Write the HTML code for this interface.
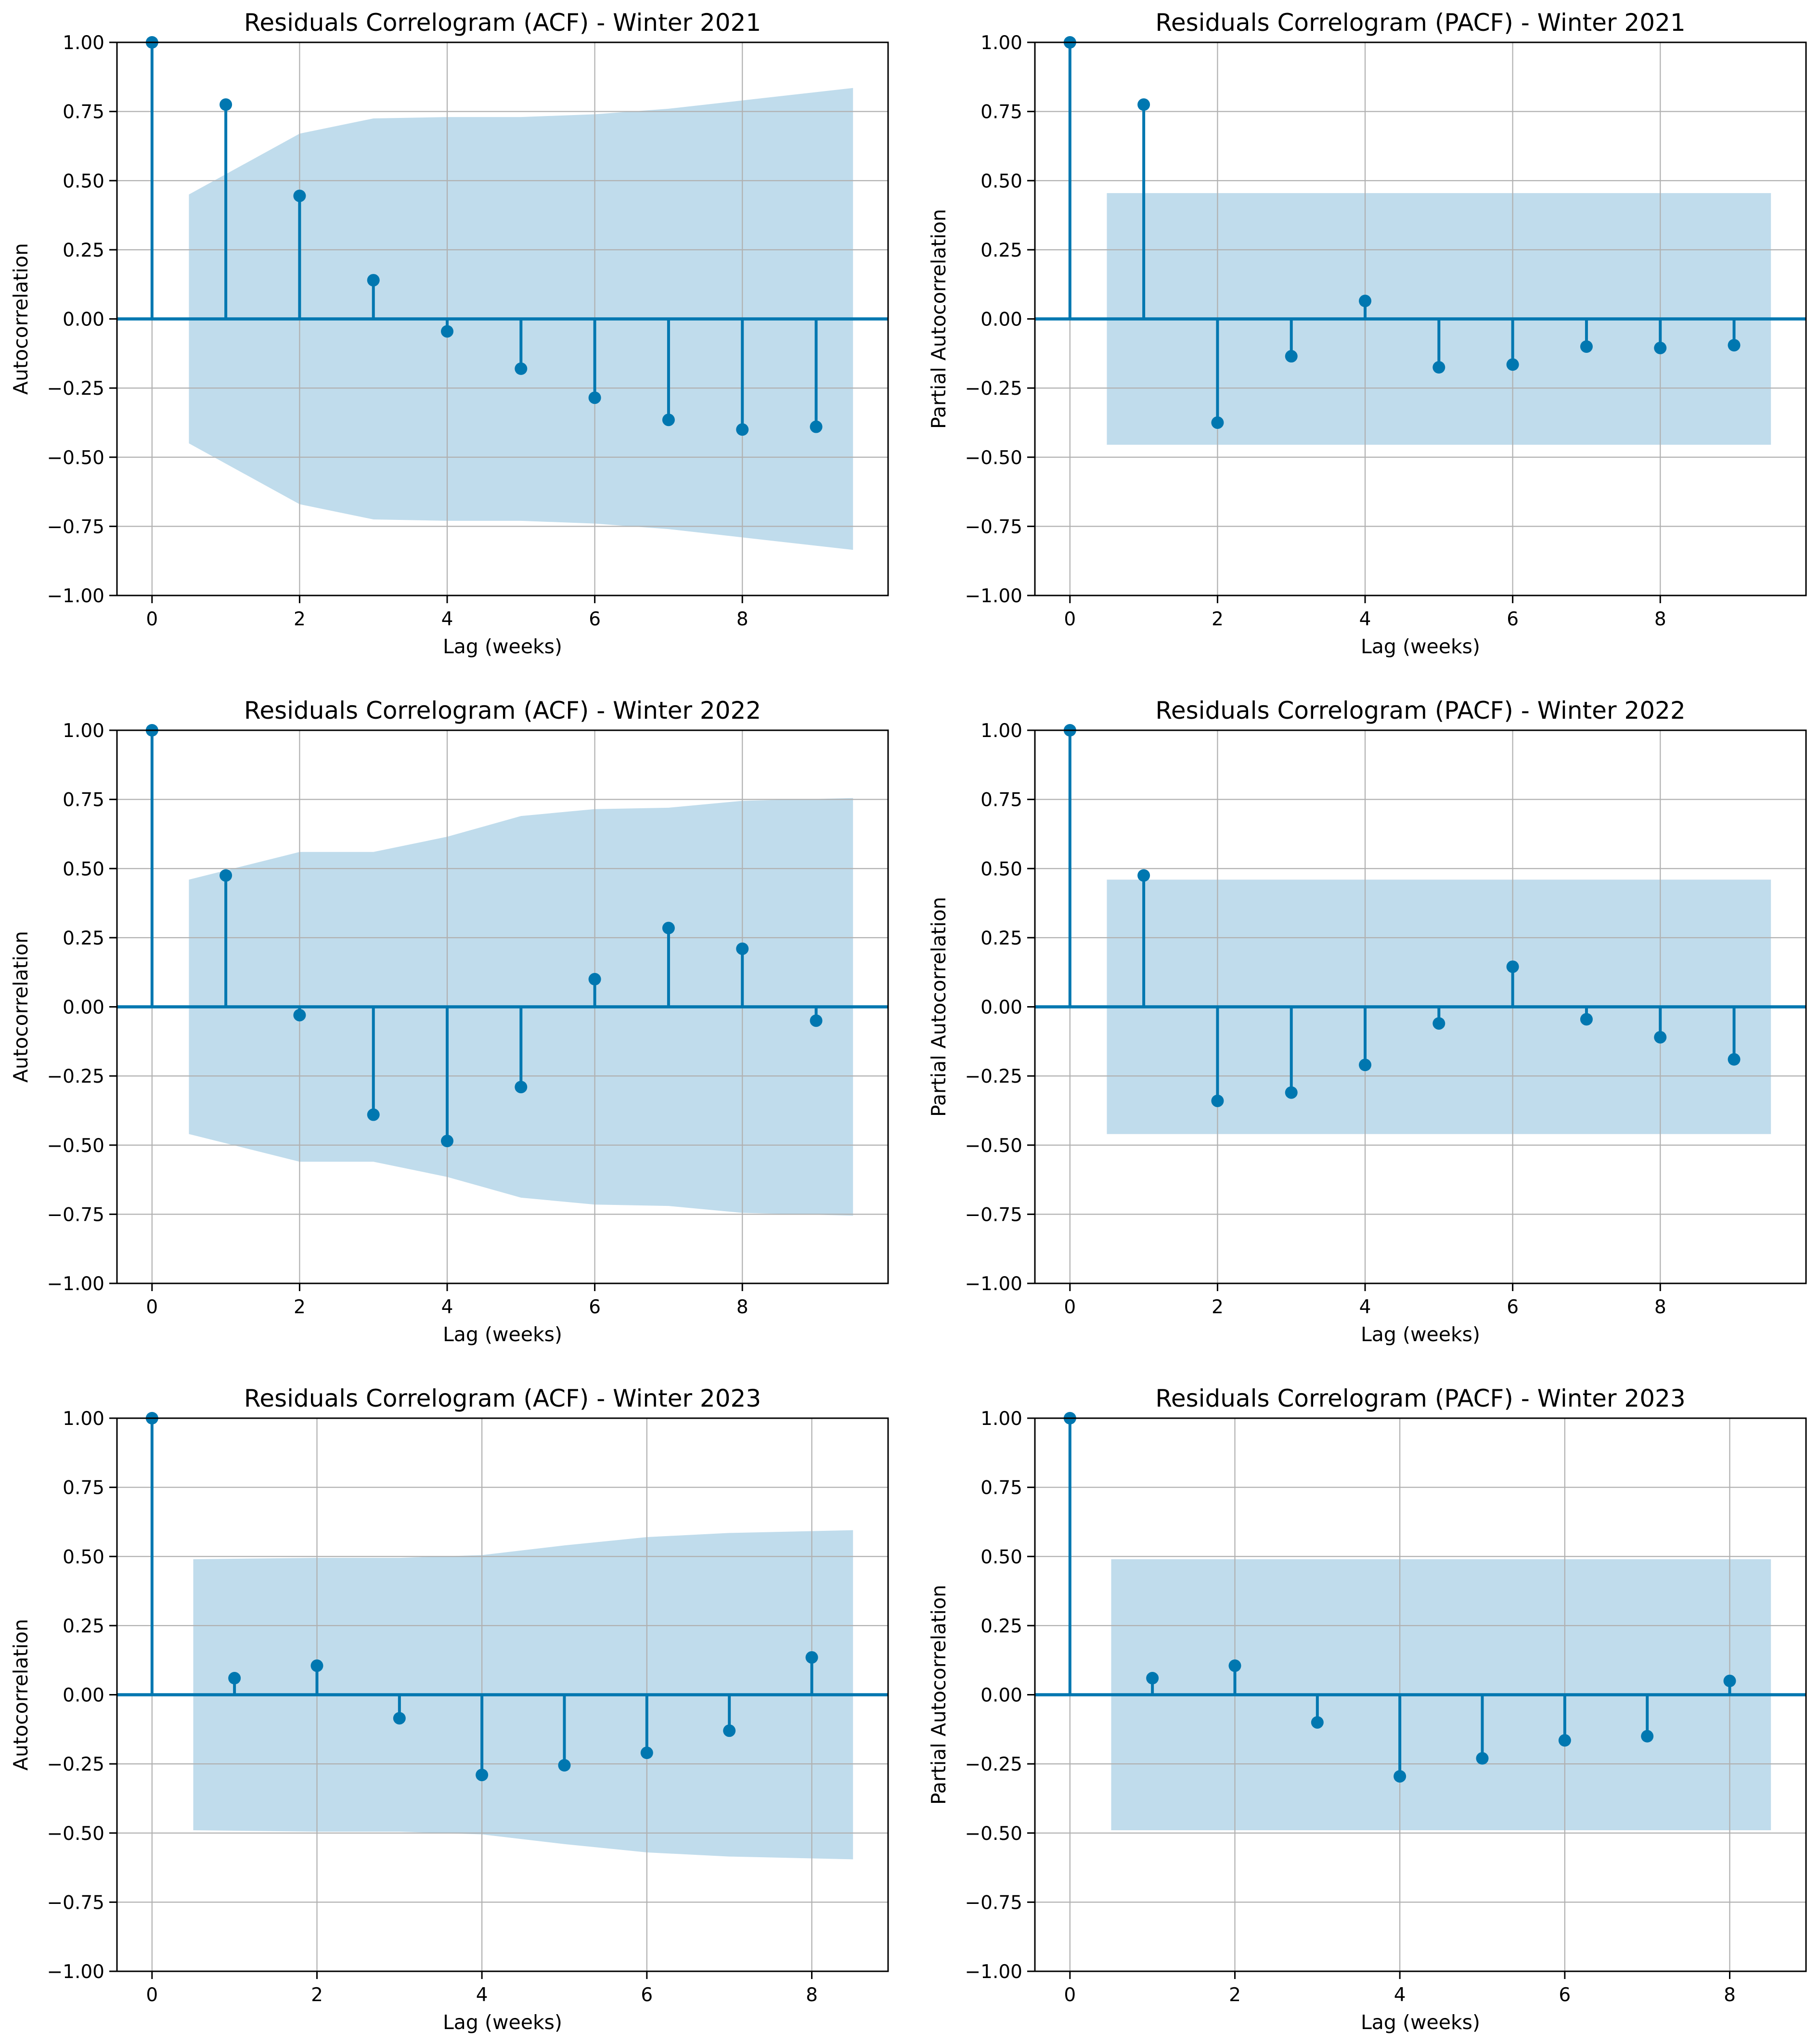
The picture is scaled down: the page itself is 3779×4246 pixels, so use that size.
<!DOCTYPE html>
<html><head><meta charset="utf-8"><style>
html,body{margin:0;padding:0;background:#fff;}
svg{display:block;}
text{font-family:"DejaVu Sans","Liberation Sans",sans-serif;fill:#000;}
</style></head><body>
<svg id="fig" width="3779" height="4246" viewBox="0 0 3779 4246" xmlns="http://www.w3.org/2000/svg"></svg>
<script>
// Data
const acf2021 = [1, 0.775, 0.445, 0.14, -0.045, -0.18, -0.285, -0.365, -0.40, -0.39];
const acf2021Band = [0.45, 0.67, 0.725, 0.73, 0.73, 0.74, 0.76, 0.79, 0.835];
const pacf2021 = [1, 0.775, -0.375, -0.135, 0.065, -0.175, -0.165, -0.10, -0.105, -0.095];
const pacf2021Band = [0.455, 0.455, 0.455, 0.455, 0.455, 0.455, 0.455, 0.455, 0.455];
const acf2022 = [1, 0.475, -0.03, -0.39, -0.485, -0.29, 0.10, 0.285, 0.21, -0.05];
const acf2022Band = [0.46, 0.56, 0.56, 0.615, 0.69, 0.715, 0.72, 0.745, 0.755];
const pacf2022 = [1, 0.475, -0.34, -0.31, -0.21, -0.06, 0.145, -0.045, -0.11, -0.19];
const pacf2022Band = [0.46, 0.46, 0.46, 0.46, 0.46, 0.46, 0.46, 0.46, 0.46];
const acf2023 = [1, 0.06, 0.105, -0.085, -0.29, -0.255, -0.21, -0.13, 0.135];
const acf2023Band = [0.49, 0.495, 0.495, 0.505, 0.54, 0.57, 0.585, 0.595];
const pacf2023 = [1, 0.06, 0.105, -0.10, -0.295, -0.23, -0.165, -0.15, 0.05];
const pacf2023Band = [0.49, 0.49, 0.49, 0.49, 0.49, 0.49, 0.49, 0.49];
const yTicks = [-1, -0.75, -0.5, -0.25, 0, 0.25, 0.5, 0.75, 1];
const yTickLabels = ["\u22121.00", "\u22120.75", "\u22120.50", "\u22120.25", "0.00", "0.25", "0.50", "0.75", "1.00"];
const xTicks = [0, 2, 4, 6, 8];

const NS = "http://www.w3.org/2000/svg";
const svg = document.getElementById('fig');
const STEM = "#0077b0", FILL = "#c0dcec";
function mk(tag, attrs, parent) {
  const e = document.createElementNS(NS, tag);
  for (const k in attrs) e.setAttribute(k, attrs[k]);
  (parent || svg).appendChild(e);
  return e;
}
const panels = [
  {vals: acf2021, band: acf2021Band, title: "Residuals Correlogram (ACF) - Winter 2021", yl: "Autocorrelation", col: 0, row: 0, id: "acf-2021"},
  {vals: pacf2021, band: pacf2021Band, title: "Residuals Correlogram (PACF) - Winter 2021", yl: "Partial Autocorrelation", col: 1, row: 0, id: "pacf-2021"},
  {vals: acf2022, band: acf2022Band, title: "Residuals Correlogram (ACF) - Winter 2022", yl: "Autocorrelation", col: 0, row: 1, id: "acf-2022"},
  {vals: pacf2022, band: pacf2022Band, title: "Residuals Correlogram (PACF) - Winter 2022", yl: "Partial Autocorrelation", col: 1, row: 1, id: "pacf-2022"},
  {vals: acf2023, band: acf2023Band, title: "Residuals Correlogram (ACF) - Winter 2023", yl: "Autocorrelation", col: 0, row: 2, id: "acf-2023"},
  {vals: pacf2023, band: pacf2023Band, title: "Residuals Correlogram (PACF) - Winter 2023", yl: "Partial Autocorrelation", col: 1, row: 2, id: "pacf-2023"}
];
panels.forEach(p => {
  const L = p.col === 0 ? 243 : 2150, W = 1602;
  const T = 88 + p.row * 1429, H = 1149;
  const n = p.vals.length - 1;
  const xmax = n + 0.5, m = 0.05 * xmax;
  const x0 = -m, x1 = xmax + m;
  const X = v => L + (v - x0) / (x1 - x0) * W;
  const Y = v => T + (1 - v) / 2 * H;
  const g = mk('g', {});
  
  
  const pts = [];
  p.band.forEach((b, i) => { const lag = i + 1; const xx = i === 0 ? 0.5 : (i === p.band.length - 1 ? lag + 0.5 : lag); pts.push(X(xx) + ',' + Y(b)); });
  for (let i = p.band.length - 1; i >= 0; i--) { const lag = i + 1; const xx = i === 0 ? 0.5 : (i === p.band.length - 1 ? lag + 0.5 : lag); pts.push(X(xx) + ',' + Y(-p.band[i])); }
  const band = mk('polygon', {points: pts.join(' '), fill: FILL}, g);
  
  
  yTicks.forEach(t => { const l = mk('line', {x1: L, x2: L + W, y1: Y(t), y2: Y(t), stroke: "#b0b0b0", 'stroke-width': 2.2}, g);   });
  xTicks.forEach(t => { const l = mk('line', {x1: X(t), x2: X(t), y1: T, y2: T + H, stroke: "#b0b0b0", 'stroke-width': 2.2}, g);   });
  const z = mk('line', {x1: L, x2: L + W, y1: Y(0), y2: Y(0), stroke: STEM, 'stroke-width': 6.5}, g);
  
  
  p.vals.forEach((v, i) => {
    const s = mk('line', {x1: X(i), x2: X(i), y1: Y(0), y2: Y(v), stroke: STEM, 'stroke-width': 6}, g);
    
    
    const c = mk('circle', {cx: X(i), cy: Y(v), r: 13, fill: STEM}, g);
    
    
  });
  const f = mk('rect', {x: L, y: T, width: W, height: H, fill: 'none', stroke: '#000', 'stroke-width': 3}, g);
  
  
  yTicks.forEach((t, i) => {
    mk('line', {x1: L - 16, x2: L, y1: Y(t), y2: Y(t), stroke: '#000', 'stroke-width': 3}, g);
    const tx = mk('text', {x: L - 26, y: Y(t) + 14, 'font-size': 39, 'text-anchor': 'end'}, g);
    tx.textContent = yTickLabels[i];
    
    
  });
  xTicks.forEach(t => {
    mk('line', {x1: X(t), x2: X(t), y1: T + H, y2: T + H + 16, stroke: '#000', 'stroke-width': 3}, g);
    const tx = mk('text', {x: X(t), y: T + H + 62, 'font-size': 39, 'text-anchor': 'middle'}, g);
    tx.textContent = t;
    
    
  });
  const ti = mk('text', {x: L + W / 2, y: T - 24, 'font-size': 50, 'text-anchor': 'middle'}, g);
  ti.textContent = p.title;
  
  
  const xl = mk('text', {x: L + W / 2, y: T + H + 120, 'font-size': 41, 'text-anchor': 'middle'}, g);
  xl.textContent = "Lag (weeks)";
  
  
  const yx = L - 186, yy = T + H / 2;
  const yl = mk('text', {x: yx, y: yy, 'font-size': 41, 'text-anchor': 'middle', transform: 'rotate(-90 ' + yx + ' ' + yy + ')'}, g);
  yl.textContent = p.yl;
  
  
});
</script>
</body></html>
